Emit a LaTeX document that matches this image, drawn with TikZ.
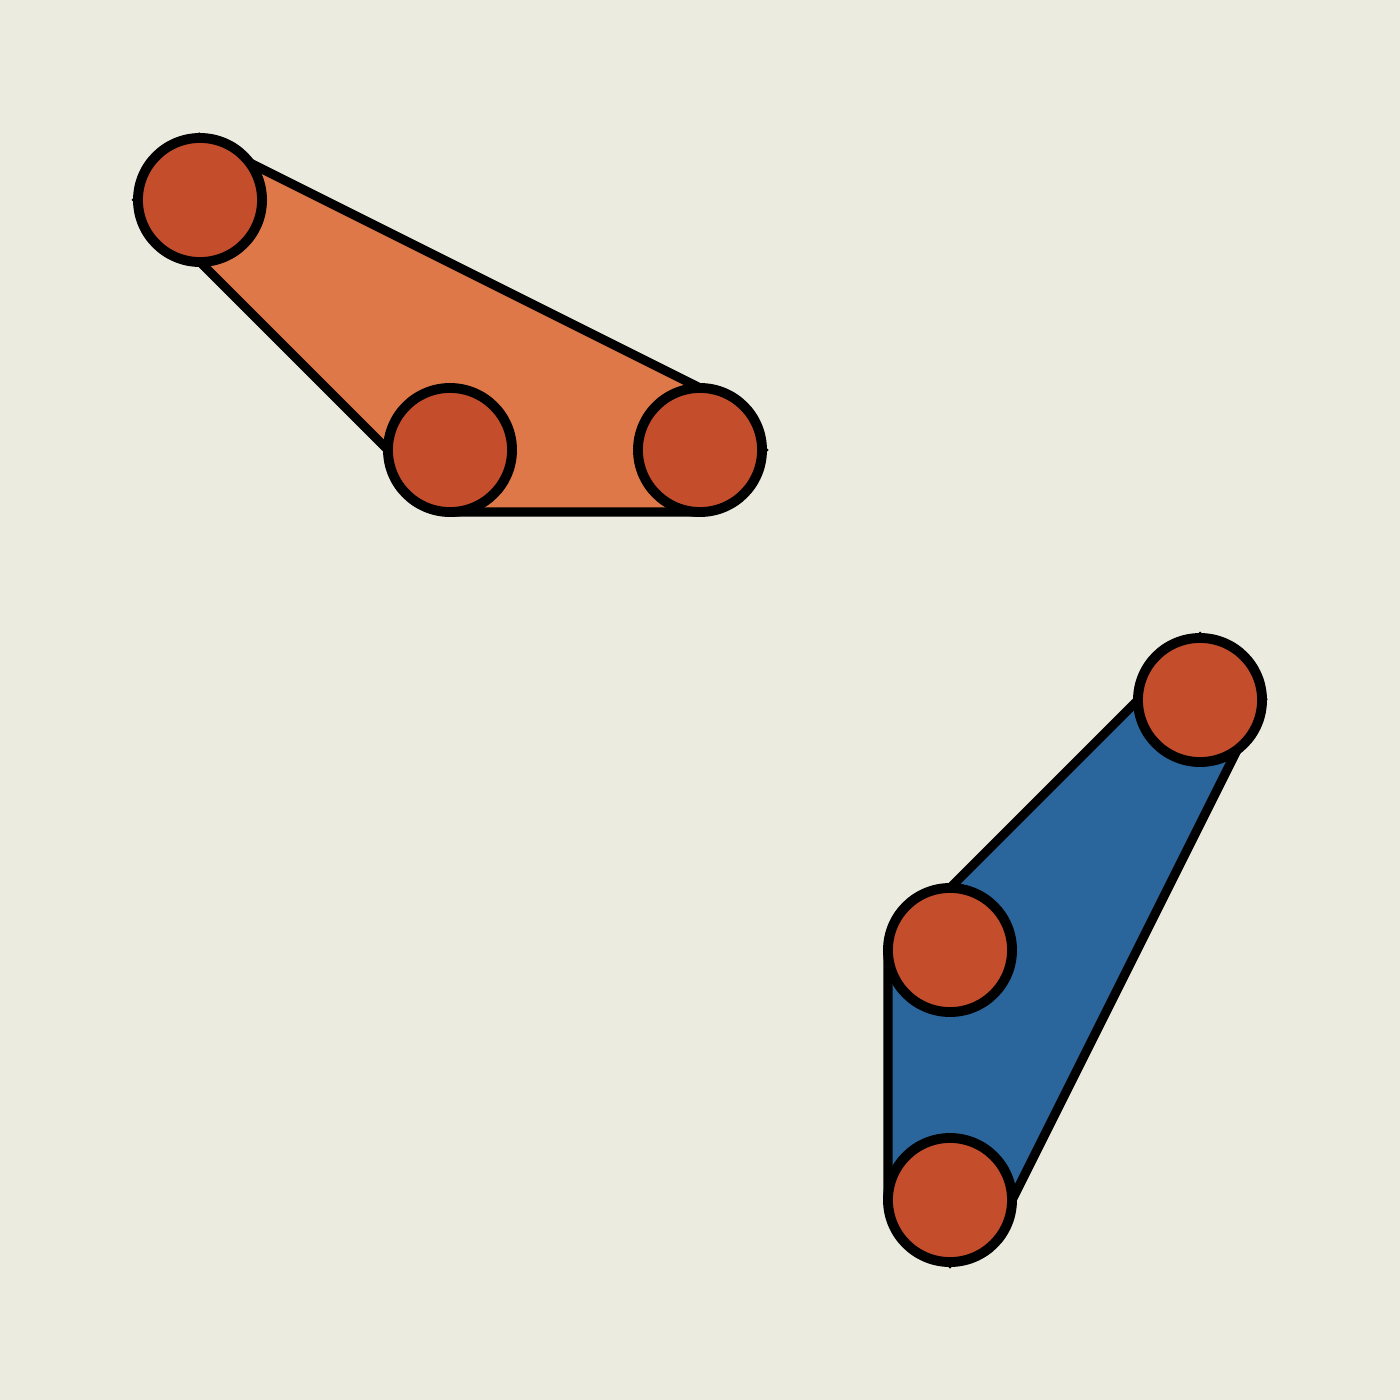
\documentclass[tikz,border=0pt]{standalone}
\usepackage{xcolor}
\usepackage{tikz}
\usetikzlibrary{backgrounds}
\definecolor{bg}{HTML}{EBEBDF}
\definecolor{hullorange}{HTML}{DF7849}
\definecolor{hullblue}{HTML}{2A659C}
\definecolor{pt}{HTML}{C44D2C}
\tikzset{
  site/.style={circle, fill=pt, draw=black, line width=2.8pt, minimum size=1.24cm, inner sep=0pt, outer sep=0pt},
  hullA/.style={fill=hullorange, draw=black, line width=2.6pt},
  hullB/.style={fill=hullblue, draw=black, line width=2.6pt},
}
\begin{document}
\begin{tikzpicture}[x=0.01cm, y=-0.01cm]
  \useasboundingbox (0,0) rectangle (1400,1400);
  % points of the first cluster
  \node[site] (a1) at (200,200) {};
  \node[site] (a2) at (450,450) {};
  \node[site] (a3) at (700,450) {};
  % points of the second cluster
  \node[site] (b1) at (1200,700) {};
  \node[site] (b2) at (950,950) {};
  \node[site] (b3) at (950,1200) {};
  \begin{pgfonlayer}{background}
    \fill[bg] (0,0) rectangle (1400,1400);
    \draw[hullA] (a1.north) -- (a3.north) -- (a3.east) -- (a3.south) -- (a2.south)
      -- (a2.west) -- (a1.south) -- (a1.west) -- cycle;
    \draw[hullB] (b1.north) -- (b1.east) -- (b3.east) -- (b3.south) -- (b3.west)
      -- (b2.west) -- (b2.north) -- (b1.west) -- cycle;
  \end{pgfonlayer}
\end{tikzpicture}
\end{document}
